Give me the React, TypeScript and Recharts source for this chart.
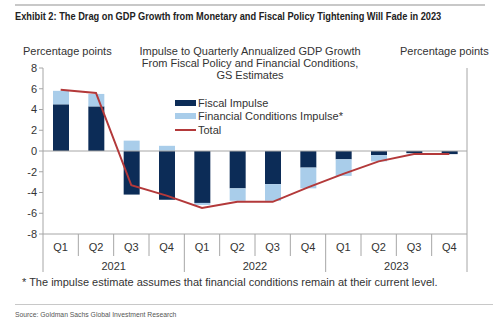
import React from "react";
import {
  Bar,
  ComposedChart,
  Line,
  ReferenceLine,
  XAxis,
  YAxis,
} from "recharts";

const quarters = ["Q1", "Q2", "Q3", "Q4", "Q1", "Q2", "Q3", "Q4", "Q1", "Q2", "Q3", "Q4"];
const years = ["2021", "2021", "2021", "2021", "2022", "2022", "2022", "2022", "2023", "2023", "2023", "2023"];
const fiscal = [4.5, 4.3, -4.2, -4.7, -5.0, -3.6, -3.2, -1.6, -0.8, -0.4, -0.2, -0.3];
const finCond = [1.3, 1.2, 1.0, 0.5, -0.2, -1.2, -1.6, -2.0, -1.6, -0.6, -0.05, 0];
const total = [5.9, 5.6, -3.3, -4.3, -5.5, -4.9, -4.9, -3.5, -2.2, -1.0, -0.3, -0.3];
const yTicks = [-8, -6, -4, -2, 0, 2, 4, 6, 8];

const data = quarters.map((q, i) => ({
  key: i,
  q,
  year: years[i],
  fiscal: fiscal[i],
  fin: finCond[i],
  total: total[i],
}));

const W = 500;
const H = 324;
const LEFT = 43;
const RIGHT = 33;
const TOP = 68;
const BOTTOM = 234;
const HALF = (W - LEFT - RIGHT) / quarters.length / 2;

const NAVY = "#0c2c57";
const LIGHT = "#a9cdea";
const RED = "#b3393a";
const GREY = "#a6a6a6";
const FONT = "'Liberation Sans', Arial, sans-serif";

const QuarterTick = (props: any) => {
  const { x, y, payload, index } = props;
  return (
    <g>
      <line x1={x - HALF} x2={x - HALF} y1={BOTTOM} y2={BOTTOM + 22} stroke={GREY} />
      {index === quarters.length - 1 && (
        <line x1={x + HALF} x2={x + HALF} y1={BOTTOM} y2={BOTTOM + 22} stroke={GREY} />
      )}
      <text x={x} y={y + 9} textAnchor="middle" fontSize={11} fill="#333" fontFamily={FONT}>
        {payload.value}
      </text>
    </g>
  );
};

const YearTick = (props: any) => {
  const { x, y, payload, index } = props;
  return (
    <g>
      {index % 4 === 0 && (
        <line x1={x - HALF} x2={x - HALF} y1={BOTTOM + 22} y2={BOTTOM + 38} stroke={GREY} />
      )}
      {index === quarters.length - 1 && (
        <line x1={x + HALF} x2={x + HALF} y1={BOTTOM + 22} y2={BOTTOM + 38} stroke={GREY} />
      )}
      {index % 4 === 1 && (
        <text x={x + HALF} y={y + 6} textAnchor="middle" fontSize={11} fill="#333" fontFamily={FONT}>
          {payload.value}
        </text>
      )}
    </g>
  );
};

const LegendRow = ({ top, color, label, thin }: { top: number; color: string; label: string; thin?: boolean }) => (
  <div style={{ position: "absolute", left: 175, top, display: "flex", alignItems: "center", height: 14 }}>
    <div style={{ width: 21, height: thin ? 2 : 6, background: color, marginRight: 2 }} />
    <span style={{ fontSize: 11, color: "#333" }}>{label}</span>
  </div>
);

export default function App() {
  return (
    <div
      style={{
        position: "absolute",
        left: 0,
        top: 0,
        width: W,
        height: H,
        background: "#fff",
        fontFamily: FONT,
        overflow: "hidden",
      }}
    >
      <div style={{ position: "absolute", left: 15, top: 4, width: 470, height: 2, background: "#c8c8c8" }} />
      <div
        style={{
          position: "absolute",
          left: 15,
          top: 10,
          fontSize: 11,
          fontWeight: "bold",
          color: "#222",
          whiteSpace: "nowrap",
          transform: "scaleX(0.84)",
          transformOrigin: "left",
        }}
      >
        Exhibit 2: The Drag on GDP Growth from Monetary and Fiscal Policy Tightening Will Fade in 2023
      </div>

      <ComposedChart
        width={W}
        height={H}
        data={data}
        stackOffset="sign"
        margin={{ top: TOP, right: 0, left: 0, bottom: H - BOTTOM - 40 }}
      >
        <XAxis
          xAxisId="q"
          dataKey="q"
          interval={0}
          axisLine={{ stroke: GREY }}
          tickLine={false}
          tick={<QuarterTick />}
          height={22}
        />
        <XAxis
          xAxisId="y"
          dataKey="year"
          interval={0}
          axisLine={false}
          tickLine={false}
          tick={<YearTick />}
          height={18}
        />
        <YAxis
          yAxisId="l"
          domain={[-8, 8]}
          ticks={yTicks}
          width={LEFT}
          axisLine={{ stroke: GREY }}
          tickLine={{ stroke: GREY }}
          tickSize={4}
          tick={{ fontSize: 11, fill: "#333", fontFamily: FONT }}
        />
        <YAxis
          yAxisId="r"
          orientation="right"
          domain={[-8, 8]}
          ticks={yTicks}
          width={RIGHT}
          axisLine={{ stroke: GREY }}
          tickLine={{ stroke: GREY }}
          tickSize={4}
          tick={{ fontSize: 11, fill: "#333", fontFamily: FONT }}
        />
        <ReferenceLine yAxisId="l" xAxisId="q" y={0} stroke={GREY} />
        <Bar xAxisId="q" yAxisId="l" dataKey="fiscal" stackId="s" fill={NAVY} barSize={16} isAnimationActive={false} />
        <Bar xAxisId="q" yAxisId="l" dataKey="fin" stackId="s" fill={LIGHT} barSize={16} isAnimationActive={false} />
        <Line
          xAxisId="q"
          yAxisId="l"
          dataKey="total"
          stroke={RED}
          strokeWidth={2}
          dot={false}
          type="linear"
          isAnimationActive={false}
        />
      </ComposedChart>

      <div style={{ position: "absolute", left: 23, top: 45, fontSize: 11, color: "#333" }}>Percentage points</div>
      <div style={{ position: "absolute", left: 400, top: 45, fontSize: 11, color: "#333" }}>Percentage points</div>
      <div
        style={{
          position: "absolute",
          left: 130,
          width: 240,
          top: 45,
          fontSize: 11,
          lineHeight: "12px",
          color: "#333",
          textAlign: "center",
        }}
      >
        Impulse to Quarterly Annualized GDP Growth
        <br />
        From Fiscal Policy and Financial Conditions,
        <br />
        GS Estimates
      </div>

      <LegendRow top={96} color={NAVY} label="Fiscal Impulse" />
      <LegendRow top={109} color={LIGHT} label="Financial Conditions Impulse*" />
      <LegendRow top={123} color={RED} label="Total" thin />

      <div style={{ position: "absolute", left: 22, top: 276, fontSize: 11, color: "#333", whiteSpace: "nowrap" }}>
        * The impulse estimate assumes that financial conditions remain at their current level.
      </div>
      <div style={{ position: "absolute", left: 15, top: 304, width: 478, height: 1, background: "#c8c8c8" }} />
      <div
        style={{
          position: "absolute",
          left: 15,
          top: 310,
          fontSize: 8,
          color: "#555",
          whiteSpace: "nowrap",
          transform: "scaleX(0.85)",
          transformOrigin: "left",
        }}
      >
        Source: Goldman Sachs Global Investment Research
      </div>
    </div>
  );
}
